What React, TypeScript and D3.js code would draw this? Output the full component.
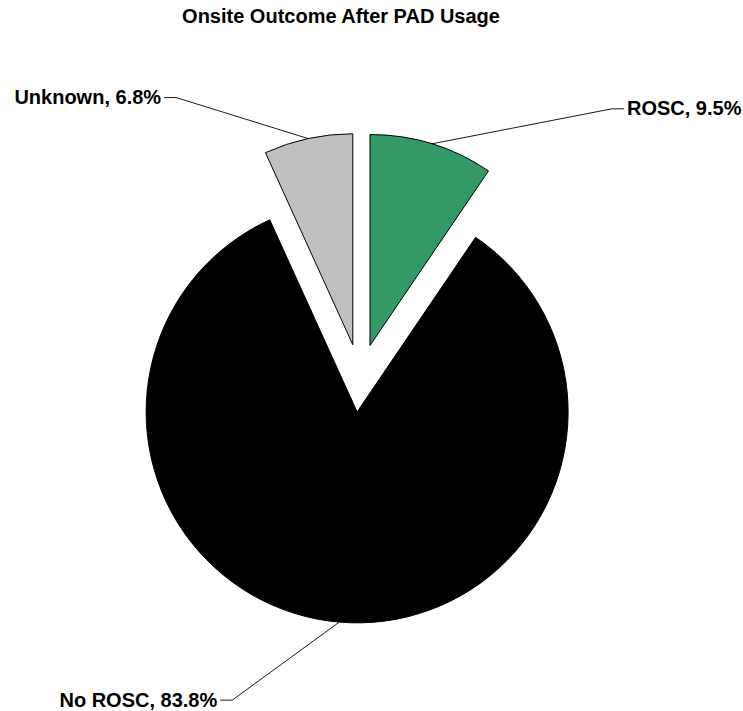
import React, { useEffect, useRef } from "react";
import * as d3 from "d3";

// chart data
const categories = ["ROSC", "No ROSC", "Unknown"];
const values = [9.5, 83.8, 6.8];
const colors = ["#339966", "#000000", "#C0C0C0"];
const title = "Onsite Outcome After PAD Usage";

// where each leader line bends, relative to the slice's outer mid point
const labelBend = [
  { dx: 180, dy: -35, side: 1 },
  { dx: -107, dy: 78, side: -1 },
  { dx: -132, dy: -41, side: -1 },
];

const W = 743;
const H = 711;

export default function App() {
  const ref = useRef<SVGSVGElement>(null);

  useEffect(() => {
    const cx = 360,
      cy = 378,
      radius = 211,
      explode = 34;

    const svg = d3.select(ref.current);
    svg.selectAll("*").remove();

    svg
      .append("text")
      .attr("x", 341)
      .attr("y", 23)
      .attr("text-anchor", "middle")
      .attr("font-family", "Arial, 'Liberation Sans', sans-serif")
      .attr("font-weight", "bold")
      .attr("font-size", 20)
      .text(title);

    const data = categories.map((c, i) => ({ name: c, value: values[i], color: colors[i], i }));

    const pie = d3
      .pie<any>()
      .sort(null)
      .value((d) => d.value)
      .startAngle(0)
      .endAngle(2 * Math.PI);

    const arc = d3.arc<any>().innerRadius(0).outerRadius(radius);

    const arcs = pie(data);

    const g = svg.append("g").attr("transform", `translate(${cx},${cy})`);

    arcs.forEach((a) => {
      const mid = (a.startAngle + a.endAngle) / 2;
      const ox = Math.sin(mid) * explode;
      const oy = -Math.cos(mid) * explode;

      g.append("path")
        .attr("d", arc(a) as string)
        .attr("transform", `translate(${ox},${oy})`)
        .attr("fill", a.data.color)
        .attr("stroke", "#000")
        .attr("stroke-width", 1);

      // leader line
      const px = ox + Math.sin(mid) * radius;
      const py = oy - Math.cos(mid) * radius;
      const lb = labelBend[a.data.i];
      const bx = px + lb.dx;
      const by = py + lb.dy;
      const ex = bx + lb.side * 12;

      g.append("polyline")
        .attr("points", `${px},${py} ${bx},${by} ${ex},${by}`)
        .attr("fill", "none")
        .attr("stroke", "#000")
        .attr("stroke-width", 0.9);

      g.append("text")
        .attr("x", ex + lb.side * 3)
        .attr("y", by + 6.5)
        .attr("text-anchor", lb.side > 0 ? "start" : "end")
        .attr("font-family", "Arial, 'Liberation Sans', sans-serif")
        .attr("font-weight", "bold")
        .attr("font-size", 20)
        .text(`${a.data.name}, ${d3.format(".1f")(a.data.value)}%`);
    });
  }, []);

  return (
    <svg
      ref={ref}
      width={W}
      height={H}
      style={{ position: "absolute", left: 0, top: 0, background: "#fff" }}
    ></svg>
  );
}
